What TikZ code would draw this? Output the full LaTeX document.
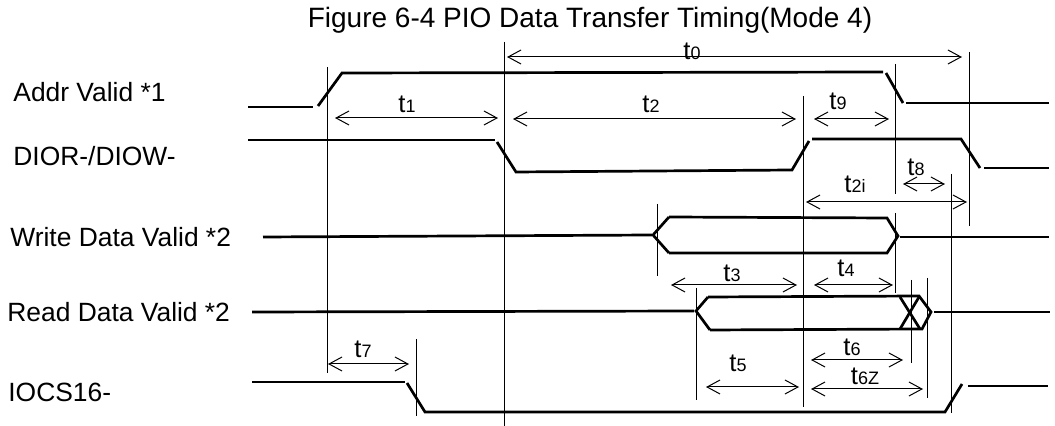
\documentclass[tikz,border=0pt]{standalone}
\usepackage{fontspec}
\setmainfont{Liberation Sans}
\usetikzlibrary{arrows.meta}
\newcommand\tlab[1]{t{\fontsize{9}{10}\selectfont #1}}
\begin{document}
\begin{tikzpicture}[x=0.5pt,y=-0.5pt,
  sig/.style={line width=1.35pt},
  grid/.style={line width=0.5pt},
  dim/.style={line width=0.5pt,{Straight Barb[length=6.5pt,width=7pt]}-{Straight Barb[length=6.5pt,width=7pt]}},
  lbl/.style={font=\fontsize{13.2}{15}\selectfont, anchor=base west, inner sep=0pt},
  tl/.style={font=\fontsize{12.8}{15}\selectfont, anchor=base, inner sep=0pt}]
\useasboundingbox (0,0) rectangle (1055,426);
% title
\node[font=\fontsize{14}{16}\selectfont, anchor=base, inner sep=0pt] (title) at (590,28) {Figure 6-4 PIO Data Transfer Timing(Mode 4)};
% signal names
\node[lbl] (addr) at (13,102) {Addr Valid *1};
\node[lbl] (dior) at (13,166) {DIOR-/DIOW-};
\node[lbl] (wdv) at (10,247) {Write Data Valid *2};
\node[lbl] (rdv) at (7,322) {Read Data Valid *2};
\node[lbl] (iocs) at (8,402) {IOCS16-};
% vertical reference lines
\draw[grid] (327,67) -- (327,373);
\draw[grid] (504,42) -- (504,426);
\draw[grid] (803,96) -- (803,407);
\draw[grid] (895,64) -- (895,194);
\draw[grid] (895,213) -- (895,293);
\draw[grid] (969,52) -- (969,226);
\draw[grid] (951,174) -- (951,413);
\draw[grid] (657,204) -- (657,276);
\draw[grid] (696,288) -- (696,400);
\draw[grid] (911,280) -- (911,363);
\draw[grid] (927,278) -- (927,398);
\draw[grid] (416,339) -- (416,416);
% Addr Valid
\draw[sig] (248,107) -- (313,107);
\draw[sig] (318,106) -- (342,73) -- (883,72);
\draw[sig] (886,73) -- (903,103);
\draw[sig] (906,103) -- (1049,103);
% DIOR-/DIOW-
\draw[sig] (248,140) -- (495,140);
\draw[sig] (497,142) -- (516,172) -- (792,170) -- (809,141);
\draw[sig] (812,139) -- (961,139) -- (980,168);
\draw[sig] (984,168) -- (1049,168);
% Write Data Valid
\draw[sig] (263,237) -- (652,235);
\draw[sig] (669,217) -- (653,235) -- (669,253);
\draw[sig] (669,217) -- (887,218) -- (898,236) -- (887,253) -- (669,253);
\draw[sig] (900,237) -- (1049,237);
% Read Data Valid
\draw[sig] (252,312) -- (694,311);
\draw[sig] (708,297) -- (696,311) -- (710,330);
\draw[sig] (708,297) -- (919,296) -- (931,312) -- (922,329) -- (710,330);
\draw[sig] (900,297) -- (920,329);
\draw[sig] (919,297) -- (900,329);
\draw[sig] (934,312) -- (1050,312);
% IOCS16-
\draw[sig] (252,382) -- (405,382);
\draw[sig] (407,383) -- (425,412) -- (945,412) -- (962,384);
\draw[sig] (968,386) -- (1048,386);
% dimension arrows
\draw[dim] (507,57) -- (962,57);
\draw[dim] (335,118) -- (498,118);
\draw[dim] (513,119) -- (796,119);
\draw[dim] (814,119) -- (889,119);
\draw[dim] (903,184) -- (945,184);
\draw[dim] (806,202) -- (967,202);
\draw[dim] (671,285) -- (797,285);
\draw[dim] (814,285) -- (893,285);
\draw[dim] (706,387) -- (799,387);
\draw[dim] (811,360) -- (903,360);
\draw[dim] (811,389) -- (923,389);
\draw[dim] (328,364) -- (409,364);
% timing labels
\node[tl] (l0) at (692,60) {\tlab{0}};
\node[tl] (l1) at (407,113) {\tlab{1}};
\node[tl] (l2) at (651,113) {\tlab{2}};
\node[tl] (l9) at (838,110) {\tlab{9}};
\node[tl] (l8) at (916,176) {\tlab{8}};
\node[tl] (l2i) at (855,193) {\tlab{2i}};
\node[tl] (l3) at (732,282) {\tlab{3}};
\node[tl] (l4) at (846,277) {\tlab{4}};
\node[tl] (l5) at (738,372) {\tlab{5}};
\node[tl] (l6) at (852,356) {\tlab{6}};
\node[tl] (l6z) at (865,385) {\tlab{6Z}};
\node[tl] (l7) at (363,358) {\tlab{7}};
\end{tikzpicture}
\end{document}
